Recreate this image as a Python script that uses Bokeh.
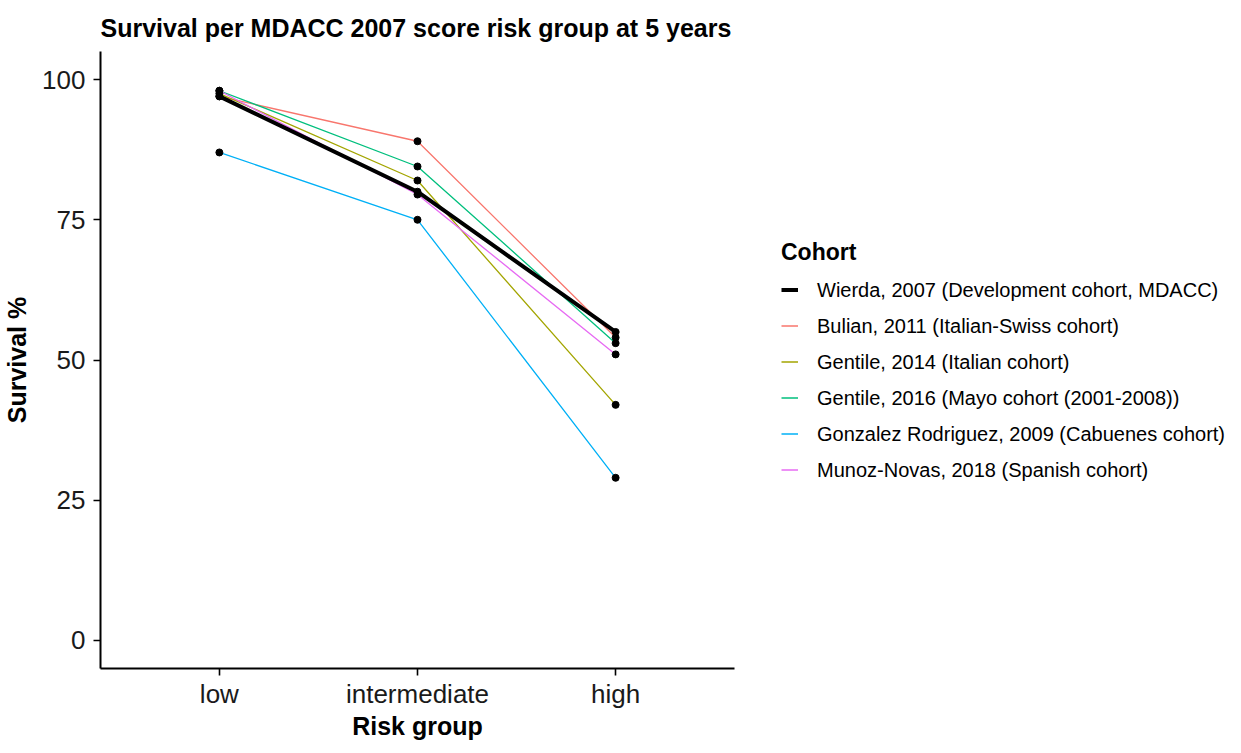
from bokeh.plotting import figure
from bokeh.models import FactorRange, Range1d, FixedTicker, Legend, LegendItem, ColumnDataSource
from bokeh.embed import file_html
from bokeh.resources import INLINE

risk_groups = ["low", "intermediate", "high"]

cohorts = [
    "Wierda, 2007 (Development cohort, MDACC)",
    "Bulian, 2011 (Italian-Swiss cohort)",
    "Gentile, 2014 (Italian cohort)",
    "Gentile, 2016 (Mayo cohort (2001-2008))",
    "Gonzalez Rodriguez, 2009 (Cabuenes cohort)",
    "Munoz-Novas, 2018 (Spanish cohort)",
]

wierda_2007 = [97, 80, 55]
bulian_2011 = [97, 89, 54]
gentile_2014 = [97.5, 82, 42]
gentile_2016 = [98, 84.5, 53]
gonzalez_2009 = [87, 75, 29]
munoz_2018 = [98, 79.5, 51]

series = [wierda_2007, bulian_2011, gentile_2014, gentile_2016, gonzalez_2009, munoz_2018]
colors = ["#000000", "#F8766D", "#A3A500", "#00BF7D", "#00B0F6", "#E76BF3"]
widths = [4, 1.3, 1.3, 1.3, 1.3, 1.3]

FONT = "Liberation Sans"

p = figure(
    x_range=FactorRange(*risk_groups, range_padding=0.1, range_padding_units="absolute"),
    y_range=Range1d(-5, 105),
    frame_width=634, frame_height=617,
    min_border_left=100, min_border_top=51, min_border_right=491, min_border_bottom=69,
    output_backend="svg", toolbar_location=None,
    title="Survival per MDACC 2007 score risk group at 5 years",
)

p.title.text_font = FONT
p.title.text_font_size = "25px"
p.title.text_font_style = "bold"
p.title.text_color = "black"
p.title.align = "left"
p.title.standoff = 20

p.xgrid.visible = False
p.ygrid.visible = False
p.outline_line_color = None

for ax in (p.xaxis[0], p.yaxis[0]):
    ax.axis_line_color = "black"
    ax.axis_line_width = 2
    ax.major_tick_line_color = "black"
    ax.major_tick_line_width = 1.6
    ax.major_tick_out = 7
    ax.major_tick_in = 0
    ax.minor_tick_line_color = None
    ax.major_label_text_font = FONT
    ax.major_label_text_font_size = "26px"
    ax.major_label_text_color = "#1a1a1a"
    ax.axis_label_text_font = FONT
    ax.axis_label_text_font_size = "25px"
    ax.axis_label_text_font_style = "bold"
    ax.axis_label_text_color = "black"

p.xaxis.axis_label = "Risk group"
p.yaxis.axis_label = "Survival %"
p.yaxis.ticker = FixedTicker(ticks=[0, 25, 50, 75, 100])
p.xaxis.major_label_standoff = 3
p.yaxis.major_label_standoff = 8
p.xaxis.axis_label_standoff = 0
p.yaxis.axis_label_standoff = 8

order = [1, 2, 3, 4, 5, 0]
rmap = {}
for i in order:
    src = ColumnDataSource(dict(x=risk_groups, y=series[i]))
    rmap[i] = p.line("x", "y", source=src, line_color=colors[i], line_width=widths[i])

for i in order:
    src = ColumnDataSource(dict(x=risk_groups, y=series[i]))
    p.scatter("x", "y", source=src, size=7, fill_color="black", line_color="black")

items = [LegendItem(label=cohorts[i], renderers=[rmap[i]]) for i in range(len(cohorts))]
legend = Legend(
    items=items, title="Cohort", location="left",
    title_text_font=FONT, title_text_font_size="23px", title_text_font_style="bold",
    title_text_color="black", title_standoff=13,
    label_text_font=FONT, label_text_font_size="20px", label_text_color="black",
    label_height=20,
    glyph_width=17, glyph_height=20, spacing=13, label_standoff=19,
    border_line_color=None, background_fill_alpha=0, margin=47, padding=0,
)
p.add_layout(legend, "right")

open("out.html", "w").write(file_html(p, INLINE))
